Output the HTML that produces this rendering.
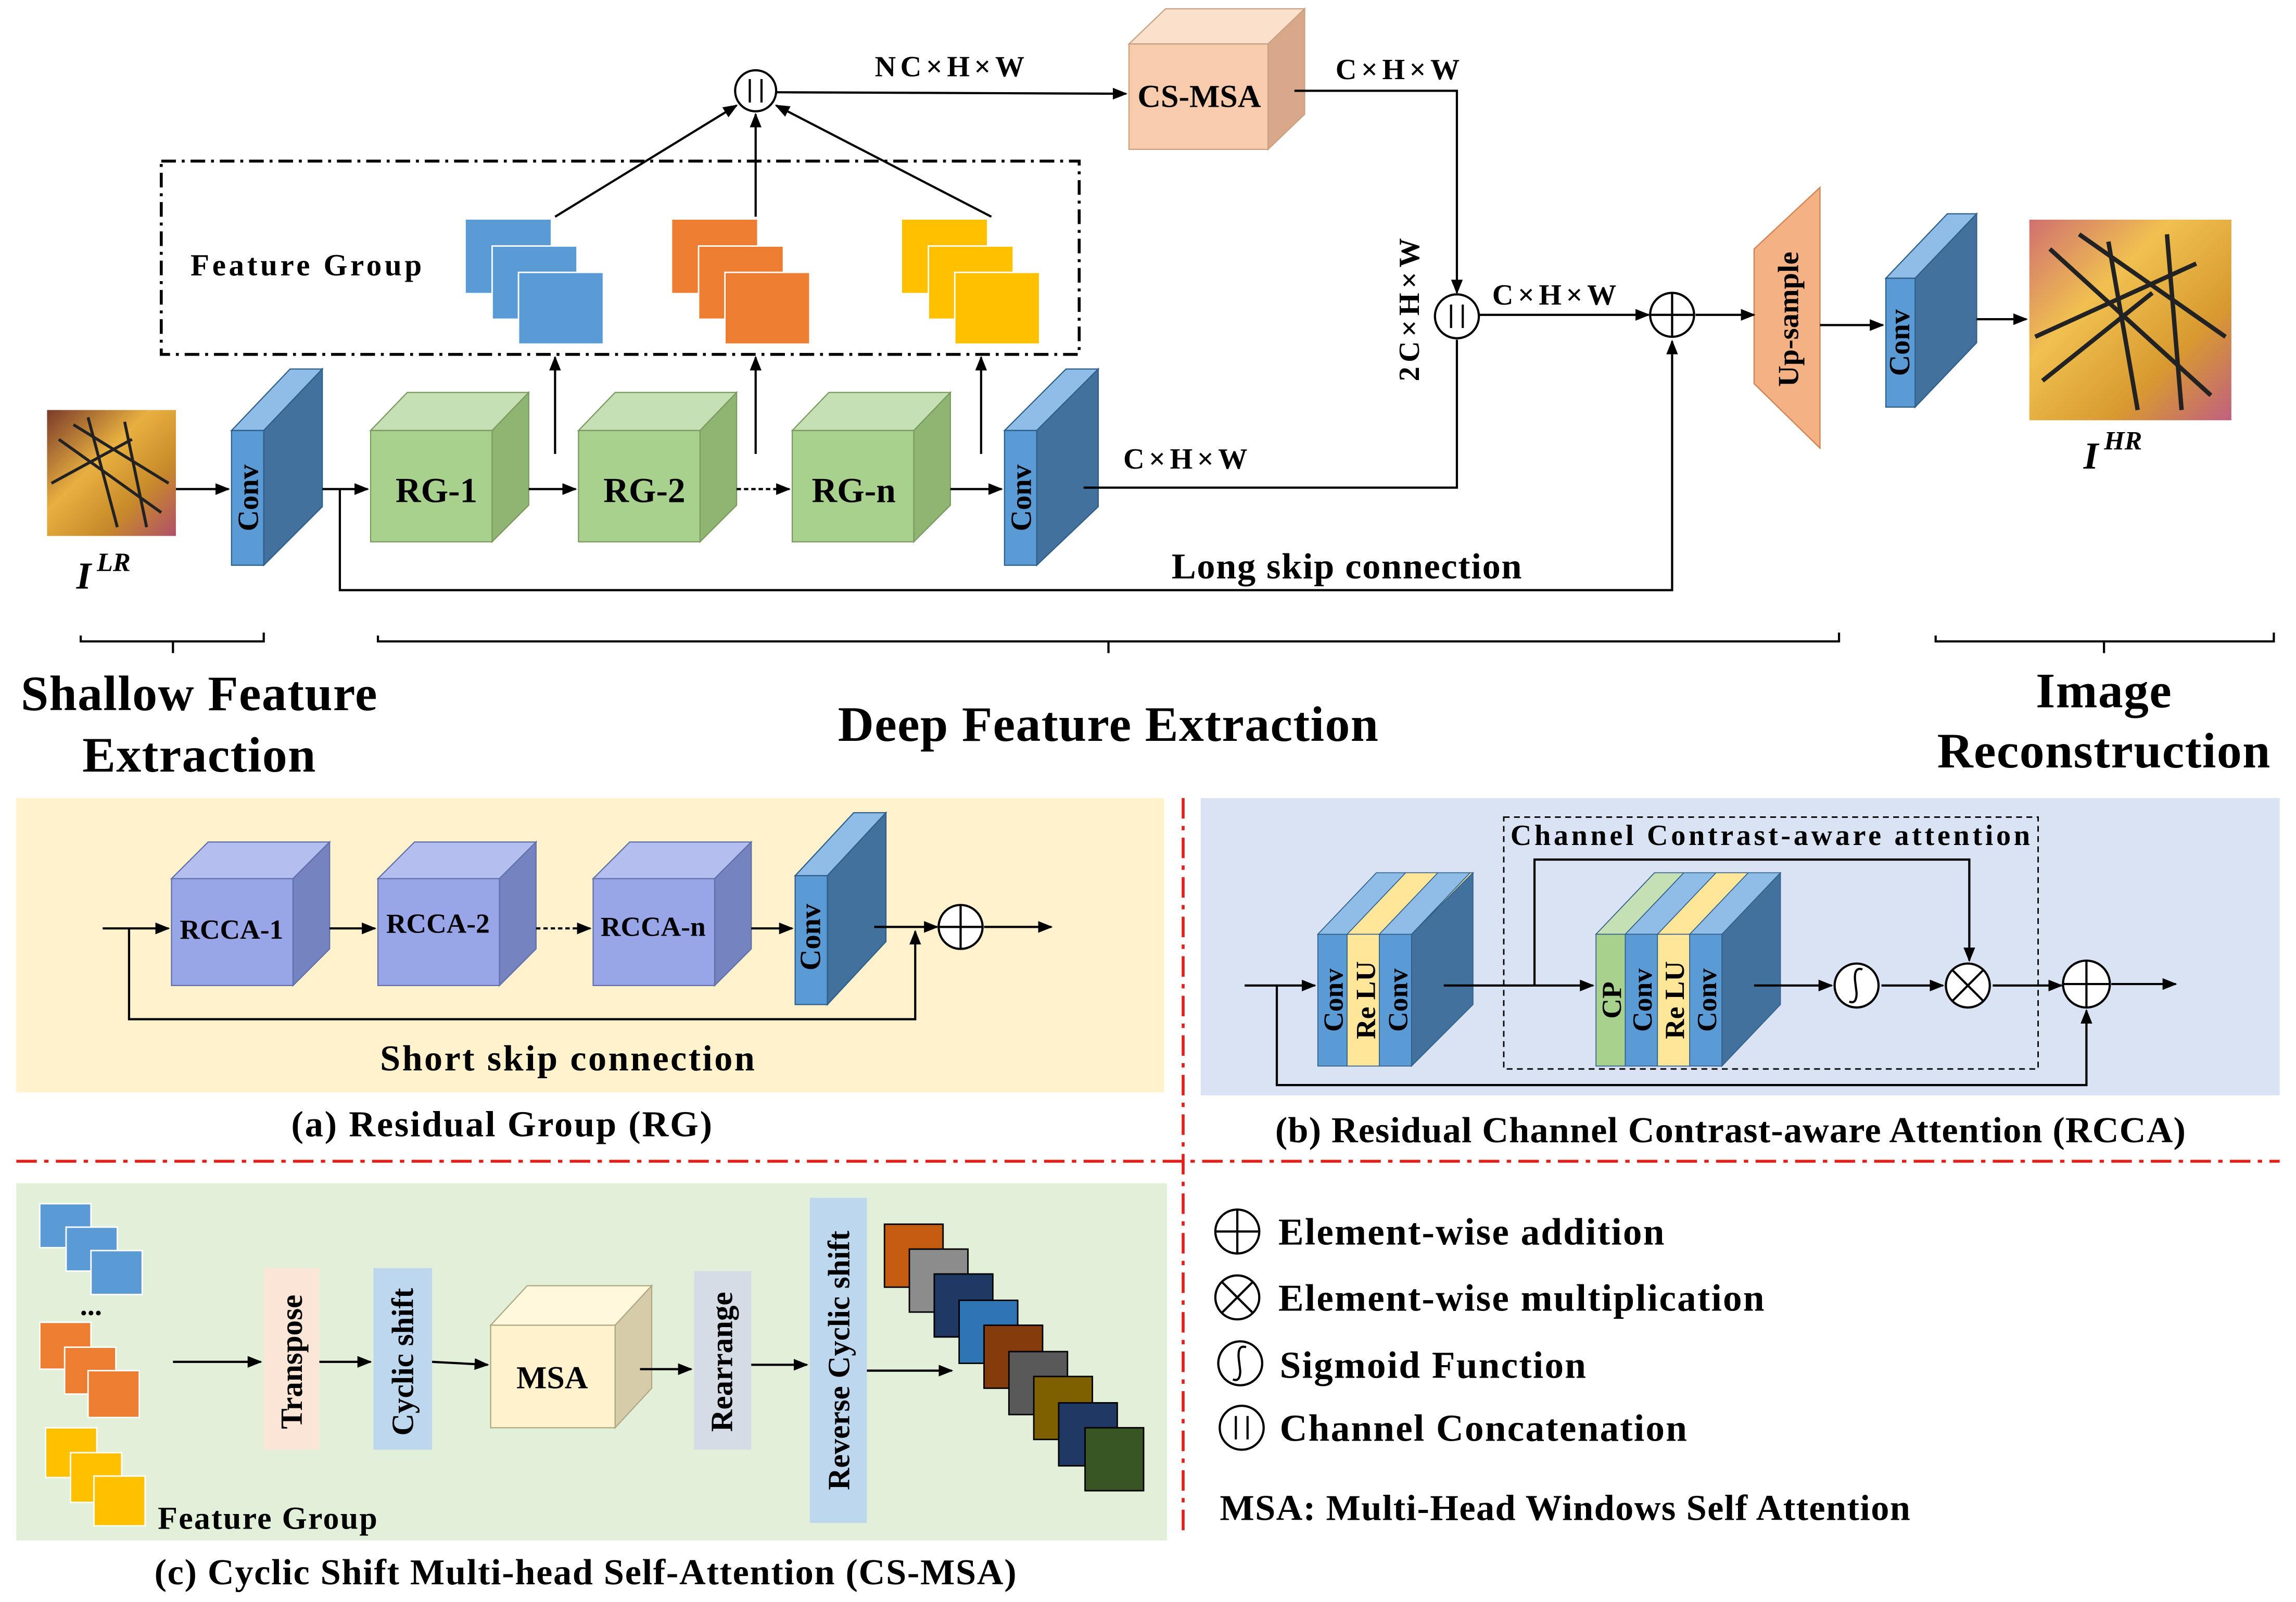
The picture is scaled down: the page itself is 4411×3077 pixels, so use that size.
<!DOCTYPE html>
<html><head><meta charset="utf-8"><style>
html,body{margin:0;padding:0;background:#fff;}
svg{display:block;}
text{font-family:"Liberation Serif",serif;font-weight:bold;fill:#000;}
</style></head><body>
<svg width="4411" height="3077" viewBox="0 0 1568 1094" xmlns="http://www.w3.org/2000/svg">
<defs>
<marker id="ar" markerWidth="10" markerHeight="8" refX="9" refY="4" orient="auto" markerUnits="userSpaceOnUse"><path d="M0,0 L10,4 L0,8 z" fill="#000"/></marker>
<linearGradient id="bf" x1="0" y1="0" x2="1" y2="1"><stop offset="0" stop-color="#7a3a2a"/><stop offset="0.4" stop-color="#e8b040"/><stop offset="0.7" stop-color="#c88a2a"/><stop offset="1" stop-color="#b0506a"/></linearGradient>
<linearGradient id="bf2" x1="0" y1="0" x2="1" y2="1"><stop offset="0" stop-color="#d07070"/><stop offset="0.35" stop-color="#f0c050"/><stop offset="0.7" stop-color="#d89a30"/><stop offset="1" stop-color="#c06080"/></linearGradient>
</defs>
<g stroke="#000" stroke-width="1.5" fill="none">
<rect x="32" y="280" width="88" height="86" fill="url(#bf)" stroke="none"/>
<path d="M40,300 L110,350 M50,290 L115,330 M60,285 L80,360 M85,288 L100,360 M35,330 L90,300" stroke="#222" stroke-width="2"/>
<rect x="1386" y="150" width="138" height="137" fill="url(#bf2)" stroke="none"/>
<path d="M1400,170 L1510,270 M1420,160 L1520,230 M1440,165 L1460,280 M1480,160 L1490,280 M1390,230 L1500,180 M1395,260 L1470,200" stroke="#222" stroke-width="3"/>
</g>
<text x="52" y="402" font-size="26" font-style="italic" font-weight="normal">I</text><text x="66" y="390" font-size="18" font-style="italic" font-weight="normal">LR</text>
<text x="1423" y="320" font-size="26" font-style="italic" font-weight="normal">I</text><text x="1437" y="307" font-size="18" font-style="italic" font-weight="normal">HR</text>

<g stroke="#2e5f8a" stroke-width="0.8">
<polygon points="158,294 198,252 220,252 180,294" fill="#8fbde8"/>
<polygon points="180,294 220,252 220,346 180,386" fill="#41719c"/>
<rect x="158" y="294" width="22" height="92" fill="#5b9bd5"/>
<polygon points="686,294 728,252 750,252 708,294" fill="#8fbde8"/>
<polygon points="708,294 750,252 750,346 708,386" fill="#41719c"/>
<rect x="686" y="294" width="22" height="92" fill="#5b9bd5"/>
<polygon points="1288,190 1330,146 1350,146 1308,190" fill="#8fbde8"/>
<polygon points="1308,190 1350,146 1350,234 1308,278" fill="#41719c"/>
<rect x="1288" y="190" width="20" height="88" fill="#5b9bd5"/>
</g>
<text transform="translate(176,340) rotate(-90)" font-size="20" text-anchor="middle">Conv</text>
<text transform="translate(704,340) rotate(-90)" font-size="20" text-anchor="middle">Conv</text>
<text transform="translate(1304,234) rotate(-90)" font-size="20" text-anchor="middle">Conv</text>

<g stroke="#7a9a60" stroke-width="0.8">
<polygon points="253,294 278,268 361,268 336,294" fill="#c5e0b4"/><polygon points="336,294 361,268 361,345 336,370" fill="#8fb573"/><rect x="253" y="294" width="83" height="76" fill="#a9d18e"/>
<polygon points="395,294 420,268 503,268 478,294" fill="#c5e0b4"/><polygon points="478,294 503,268 503,345 478,370" fill="#8fb573"/><rect x="395" y="294" width="83" height="76" fill="#a9d18e"/>
<polygon points="541,294 566,268 649,268 624,294" fill="#c5e0b4"/><polygon points="624,294 649,268 649,345 624,370" fill="#8fb573"/><rect x="541" y="294" width="83" height="76" fill="#a9d18e"/>
</g>
<text x="298" y="343" font-size="24" text-anchor="middle">RG-1</text>
<text x="440" y="343" font-size="24" text-anchor="middle">RG-2</text>
<text x="583" y="343" font-size="24" text-anchor="middle">RG-n</text>

<g stroke="#c8a080" stroke-width="0.8">
<polygon points="771,30 796,6 891,6 866,30" fill="#fbe0cc"/><polygon points="866,30 891,6 891,78 866,102" fill="#d9a88a"/><rect x="771" y="30" width="95" height="72" fill="#f8cbad"/>
</g>
<text x="819" y="73" font-size="22" text-anchor="middle">CS-MSA</text>

<polygon points="1198,170 1243,128 1243,306 1198,262" fill="#f4b183" stroke="#d08050" stroke-width="0.8"/>
<text transform="translate(1228,218) rotate(-90)" font-size="20" text-anchor="middle">Up-sample</text>

<rect x="110" y="110" width="627" height="132" fill="none" stroke="#000" stroke-width="2" stroke-dasharray="10,4,2,4"/>
<text x="130" y="188" font-size="21" letter-spacing="2">Feature  Group</text>
<g stroke="none">
<rect x="318" y="150" width="58" height="50" fill="#5b9bd5"/><rect x="336" y="168" width="58" height="50" fill="#5b9bd5" stroke="#fff"/><rect x="354" y="186" width="58" height="49" fill="#5b9bd5" stroke="#fff"/>
<rect x="459" y="150" width="58" height="50" fill="#ed7d31"/><rect x="477" y="168" width="58" height="50" fill="#ed7d31" stroke="#fff"/><rect x="495" y="186" width="58" height="49" fill="#ed7d31" stroke="#fff"/>
<rect x="616" y="150" width="58" height="50" fill="#ffc000"/><rect x="634" y="168" width="58" height="50" fill="#ffc000" stroke="#fff"/><rect x="652" y="186" width="58" height="49" fill="#ffc000" stroke="#fff"/>
</g>

<g stroke="#000" stroke-width="1.5" fill="none">
<line x1="120" y1="334" x2="156" y2="334" marker-end="url(#ar)"/>
<line x1="220" y1="334" x2="251" y2="334" marker-end="url(#ar)"/>
<line x1="361" y1="334" x2="393" y2="334" marker-end="url(#ar)"/>
<line x1="503" y1="334" x2="539" y2="334" stroke-dasharray="3,2" marker-end="url(#ar)"/>
<line x1="649" y1="334" x2="684" y2="334" marker-end="url(#ar)"/>
<line x1="379" y1="310" x2="379" y2="244" marker-end="url(#ar)"/>
<line x1="516" y1="310" x2="516" y2="244" marker-end="url(#ar)"/>
<line x1="670" y1="310" x2="670" y2="244" marker-end="url(#ar)"/>
<line x1="379" y1="148" x2="503" y2="72" marker-end="url(#ar)"/>
<line x1="516" y1="148" x2="516" y2="78" marker-end="url(#ar)"/>
<line x1="677" y1="148" x2="530" y2="72" marker-end="url(#ar)"/>
<line x1="530" y1="63" x2="769" y2="64" marker-end="url(#ar)"/>
<polyline points="884,62 995,62 995,200" marker-end="url(#ar)"/>
<polyline points="740,333 995,333 995,232"/>
<line x1="1009" y1="215" x2="1126" y2="215" marker-end="url(#ar)"/>
<polyline points="232,334 232,403 1142,403 1142,233" marker-end="url(#ar)"/>
<line x1="1158" y1="215" x2="1198" y2="215" marker-end="url(#ar)"/>
<line x1="1243" y1="222" x2="1286" y2="222" marker-end="url(#ar)"/>
<line x1="1350" y1="218" x2="1384" y2="218" marker-end="url(#ar)"/>
<circle cx="516" cy="62" r="14" fill="#fff"/><line x1="512" y1="54" x2="512" y2="70"/><line x1="520" y1="54" x2="520" y2="70"/>
<circle cx="995" cy="216" r="15" fill="#fff"/><line x1="991" y1="208" x2="991" y2="224"/><line x1="999" y1="208" x2="999" y2="224"/>
<circle cx="1142" cy="215" r="15" fill="#fff"/><line x1="1127" y1="215" x2="1157" y2="215"/><line x1="1142" y1="200" x2="1142" y2="230"/>
<polyline points="55,434 55,438 180,438 180,432"/><line x1="118" y1="438" x2="118" y2="446"/>
<polyline points="258,434 258,438 1256,438 1256,432"/><line x1="757" y1="438" x2="757" y2="446"/>
<polyline points="1322,434 1322,438 1553,438 1553,432"/><line x1="1437" y1="438" x2="1437" y2="446"/>
</g>
<text x="650" y="52" font-size="20" text-anchor="middle" letter-spacing="3">NC×H×W</text>
<text x="956" y="54" font-size="20" text-anchor="middle" letter-spacing="3">C×H×W</text>
<text x="1063" y="208" font-size="20" text-anchor="middle" letter-spacing="3">C×H×W</text>
<text x="811" y="320" font-size="20" text-anchor="middle" letter-spacing="3">C×H×W</text>
<text transform="translate(969,210) rotate(-90)" font-size="20" text-anchor="middle" letter-spacing="3">2C×H×W</text>
<text x="920" y="395" font-size="25" text-anchor="middle" letter-spacing="0.6">Long skip connection</text>
<text x="136" y="485" font-size="34" text-anchor="middle" letter-spacing="0.5">Shallow Feature</text>
<text x="136" y="527" font-size="34" text-anchor="middle" letter-spacing="0.5">Extraction</text>
<text x="757" y="506" font-size="34" text-anchor="middle" letter-spacing="0.5">Deep Feature Extraction</text>
<text x="1437" y="483" font-size="34" text-anchor="middle" letter-spacing="0.5">Image</text>
<text x="1437" y="524" font-size="34" text-anchor="middle" letter-spacing="0.5">Reconstruction</text>

<rect x="11" y="545" width="784" height="201" fill="#fff2cc"/>
<g stroke="#6070a8" stroke-width="0.8">
<polygon points="117,600 142,575 225,575 200,600" fill="#b4bff0"/><polygon points="200,600 225,575 225,648 200,673" fill="#7584c0"/><rect x="117" y="600" width="83" height="73" fill="#98a6e8"/>
<polygon points="258,600 283,575 366,575 341,600" fill="#b4bff0"/><polygon points="341,600 366,575 366,648 341,673" fill="#7584c0"/><rect x="258" y="600" width="83" height="73" fill="#98a6e8"/>
<polygon points="405,600 430,575 513,575 488,600" fill="#b4bff0"/><polygon points="488,600 513,575 513,648 488,673" fill="#7584c0"/><rect x="405" y="600" width="83" height="73" fill="#98a6e8"/>
</g>
<g stroke="#2e5f8a" stroke-width="0.8">
<polygon points="543,598 583,555 605,555 565,598" fill="#8fbde8"/><polygon points="565,598 605,555 605,643 565,686" fill="#41719c"/><rect x="543" y="598" width="22" height="88" fill="#5b9bd5"/>
</g>
<text x="158" y="641" font-size="19" text-anchor="middle">RCCA-1</text>
<text x="299" y="637" font-size="19" text-anchor="middle">RCCA-2</text>
<text x="446" y="639" font-size="19" text-anchor="middle">RCCA-n</text>
<text transform="translate(560,640) rotate(-90)" font-size="20" text-anchor="middle">Conv</text>
<g stroke="#000" stroke-width="1.5" fill="none">
<line x1="70" y1="634" x2="115" y2="634" marker-end="url(#ar)"/>
<line x1="225" y1="634" x2="256" y2="634" marker-end="url(#ar)"/>
<line x1="366" y1="634" x2="403" y2="634" stroke-dasharray="3,2" marker-end="url(#ar)"/>
<line x1="513" y1="634" x2="541" y2="634" marker-end="url(#ar)"/>
<line x1="597" y1="633" x2="640" y2="633" marker-end="url(#ar)"/>
<polyline points="88,634 88,696 625,696 625,636" marker-end="url(#ar)"/>
<line x1="672" y1="633" x2="718" y2="633" marker-end="url(#ar)"/>
<circle cx="656" cy="633" r="15" fill="#fff"/><line x1="641" y1="633" x2="671" y2="633"/><line x1="656" y1="618" x2="656" y2="648"/>
</g>
<text x="388" y="731" font-size="25" text-anchor="middle" letter-spacing="1.2">Short skip connection</text>
<text x="343" y="776" font-size="25" text-anchor="middle" letter-spacing="1">(a) Residual Group (RG)</text>

<g stroke="#e0201a" stroke-width="2" stroke-dasharray="14,5,3,5">
<line x1="808" y1="545" x2="808" y2="1050"/>
<line x1="11" y1="793" x2="1557" y2="793"/>
</g>

<rect x="820" y="545" width="737" height="203" fill="#dae3f3"/>
<g stroke="#2e5f8a" stroke-width="0.6">
<polygon points="900,638 940,596 1006,596 964,638" fill="#ffe699"/>
<polygon points="964,638 1006,596 1006,686 964,728" fill="#41719c"/>
<rect x="900" y="638" width="20" height="90" fill="#5b9bd5"/>
<rect x="920" y="638" width="22" height="90" fill="#ffe699"/>
<rect x="942" y="638" width="22" height="90" fill="#5b9bd5"/>
<polygon points="900,638 940,596 960,596 920,638" fill="#8fbde8"/>
<polygon points="942,638 982,596 1004,596 964,638" fill="#8fbde8"/>
<polygon points="1090,638 1130,596 1216,596 1176,638" fill="#ffe699"/>
<polygon points="1090,638 1130,596 1150,596 1110,638" fill="#c5e0b4"/>
<polygon points="1110,638 1150,596 1172,596 1132,638" fill="#8fbde8"/>
<polygon points="1154,638 1194,596 1216,596 1176,638" fill="#8fbde8"/>
<polygon points="1176,638 1216,596 1216,686 1176,728" fill="#41719c"/>
<rect x="1090" y="638" width="20" height="90" fill="#a9d18e"/>
<rect x="1110" y="638" width="22" height="90" fill="#5b9bd5"/>
<rect x="1132" y="638" width="22" height="90" fill="#ffe699"/>
<rect x="1154" y="638" width="22" height="90" fill="#5b9bd5"/>
</g>
<text transform="translate(917,683) rotate(-90)" font-size="19" text-anchor="middle">Conv</text>
<text transform="translate(939,683) rotate(-90)" font-size="19" text-anchor="middle">Re LU</text>
<text transform="translate(961,683) rotate(-90)" font-size="19" text-anchor="middle">Conv</text>
<text transform="translate(1107,683) rotate(-90)" font-size="19" text-anchor="middle">CP</text>
<text transform="translate(1128,683) rotate(-90)" font-size="19" text-anchor="middle">Conv</text>
<text transform="translate(1150,683) rotate(-90)" font-size="19" text-anchor="middle">Re LU</text>
<text transform="translate(1172,683) rotate(-90)" font-size="19" text-anchor="middle">Conv</text>
<rect x="1027" y="558" width="365" height="172" fill="none" stroke="#000" stroke-width="1" stroke-dasharray="4,3"/>
<text x="1210" y="577" font-size="20" text-anchor="middle" letter-spacing="2">Channel Contrast-aware  attention</text>
<g stroke="#000" stroke-width="1.5" fill="none">
<line x1="850" y1="673" x2="898" y2="673" marker-end="url(#ar)"/>
<line x1="986" y1="673" x2="1088" y2="673" marker-end="url(#ar)"/>
<polyline points="1048,673 1048,587 1345,587 1345,656" marker-end="url(#ar)"/>
<line x1="1198" y1="673" x2="1251" y2="673" marker-end="url(#ar)"/>
<line x1="1285" y1="673" x2="1327" y2="673" marker-end="url(#ar)"/>
<line x1="1361" y1="673" x2="1408" y2="673" marker-end="url(#ar)"/>
<line x1="1442" y1="672" x2="1486" y2="672" marker-end="url(#ar)"/>
<polyline points="872,673 872,741 1425,741 1425,690" marker-end="url(#ar)"/>
<circle cx="1268" cy="673" r="15" fill="#fff"/><path d="M1272,662 Q1266,660 1267,670 L1268,678 Q1268,686 1263,684"/>
<circle cx="1344" cy="673" r="15" fill="#fff"/><line x1="1333" y1="662" x2="1355" y2="684"/><line x1="1355" y1="662" x2="1333" y2="684"/>
<circle cx="1425" cy="672" r="16" fill="#fff"/><line x1="1409" y1="672" x2="1441" y2="672"/><line x1="1425" y1="656" x2="1425" y2="688"/>
</g>
<text x="1182" y="780" font-size="25" text-anchor="middle" letter-spacing="0.4">(b) Residual Channel Contrast-aware Attention (RCCA)</text>

<rect x="11" y="808" width="786" height="244" fill="#e2efd9"/>
<g stroke="#fff" stroke-width="1">
<rect x="27" y="822" width="35" height="30" fill="#5b9bd5"/><rect x="45" y="838" width="35" height="30" fill="#5b9bd5"/><rect x="62" y="854" width="35" height="30" fill="#5b9bd5"/>
<rect x="27" y="903" width="35" height="32" fill="#ed7d31"/><rect x="44" y="920" width="35" height="32" fill="#ed7d31"/><rect x="60" y="936" width="35" height="32" fill="#ed7d31"/>
<rect x="31" y="975" width="35" height="34" fill="#ffc000"/><rect x="48" y="992" width="35" height="34" fill="#ffc000"/><rect x="64" y="1008" width="35" height="34" fill="#ffc000"/>
</g>
<text x="62" y="898" font-size="20" text-anchor="middle">...</text>
<text x="183" y="1044" font-size="22" text-anchor="middle" letter-spacing="0.8">Feature Group</text>
<rect x="180" y="866" width="38" height="124" fill="#fbe5d6"/>
<rect x="255" y="866" width="40" height="124" fill="#bdd7ee"/>
<rect x="474" y="868" width="39" height="122" fill="#d6dce5"/>
<rect x="553" y="818" width="39" height="222" fill="#bdd7ee"/>
<g stroke="#b0a880" stroke-width="0.8">
<polygon points="335,905 360,878 445,878 420,905" fill="#fff8dc"/><polygon points="420,905 445,878 445,948 420,975" fill="#d6ccaa"/><rect x="335" y="905" width="85" height="70" fill="#fff2cc"/>
</g>
<text transform="translate(206,930) rotate(-90)" font-size="21" text-anchor="middle">Transpose</text>
<text transform="translate(282,930) rotate(-90)" font-size="21" text-anchor="middle">Cyclic shift</text>
<text x="377" y="948" font-size="22" text-anchor="middle">MSA</text>
<text transform="translate(500,930) rotate(-90)" font-size="21" text-anchor="middle">Rearrange</text>
<text transform="translate(580,929) rotate(-90)" font-size="21" text-anchor="middle">Reverse Cyclic shift</text>
<g stroke="#000" stroke-width="1.5" fill="none">
<line x1="118" y1="930" x2="178" y2="930" marker-end="url(#ar)"/>
<line x1="218" y1="930" x2="253" y2="930" marker-end="url(#ar)"/>
<line x1="295" y1="930" x2="333" y2="932" marker-end="url(#ar)"/>
<line x1="437" y1="935" x2="472" y2="935" marker-end="url(#ar)"/>
<line x1="513" y1="932" x2="551" y2="932" marker-end="url(#ar)"/>
<line x1="592" y1="936" x2="650" y2="936" marker-end="url(#ar)"/>
</g>
<g stroke="#000" stroke-width="1">
<rect x="604" y="836" width="40" height="43" fill="#c55a11"/>
<rect x="621" y="853" width="40" height="43" fill="#8c8c8c"/>
<rect x="638" y="870" width="40" height="43" fill="#1f3864"/>
<rect x="655" y="888" width="40" height="43" fill="#2e75b6"/>
<rect x="672" y="905" width="40" height="43" fill="#843c0c"/>
<rect x="689" y="923" width="40" height="43" fill="#595959"/>
<rect x="706" y="940" width="40" height="43" fill="#7f6000"/>
<rect x="723" y="958" width="40" height="43" fill="#203864"/>
<rect x="741" y="975" width="40" height="43" fill="#375623"/>
</g>
<text x="400" y="1082" font-size="25" text-anchor="middle" letter-spacing="0.6">(c) Cyclic Shift Multi-head  Self-Attention (CS-MSA)</text>

<g stroke="#000" stroke-width="1.5" fill="none">
<circle cx="845" cy="841" r="15"/><line x1="830" y1="841" x2="860" y2="841"/><line x1="845" y1="826" x2="845" y2="856"/>
<circle cx="845" cy="886" r="15"/><line x1="834" y1="875" x2="856" y2="897"/><line x1="856" y1="875" x2="834" y2="897"/>
<circle cx="847" cy="931" r="15"/><path d="M851,920 Q845,918 846,928 L847,936 Q847,944 842,942"/>
<circle cx="848" cy="975" r="15"/><line x1="844" y1="967" x2="844" y2="983"/><line x1="852" y1="967" x2="852" y2="983"/>
</g>
<text x="873" y="850" font-size="26" letter-spacing="0.8">Element-wise addition</text>
<text x="873" y="895" font-size="26" letter-spacing="0.8">Element-wise multiplication</text>
<text x="874" y="941" font-size="26" letter-spacing="0.8">Sigmoid Function</text>
<text x="874" y="984" font-size="26" letter-spacing="0.8">Channel Concatenation</text>
<text x="833" y="1038" font-size="25" letter-spacing="0.5">MSA: Multi-Head Windows Self Attention</text>
</svg>
</body></html>
